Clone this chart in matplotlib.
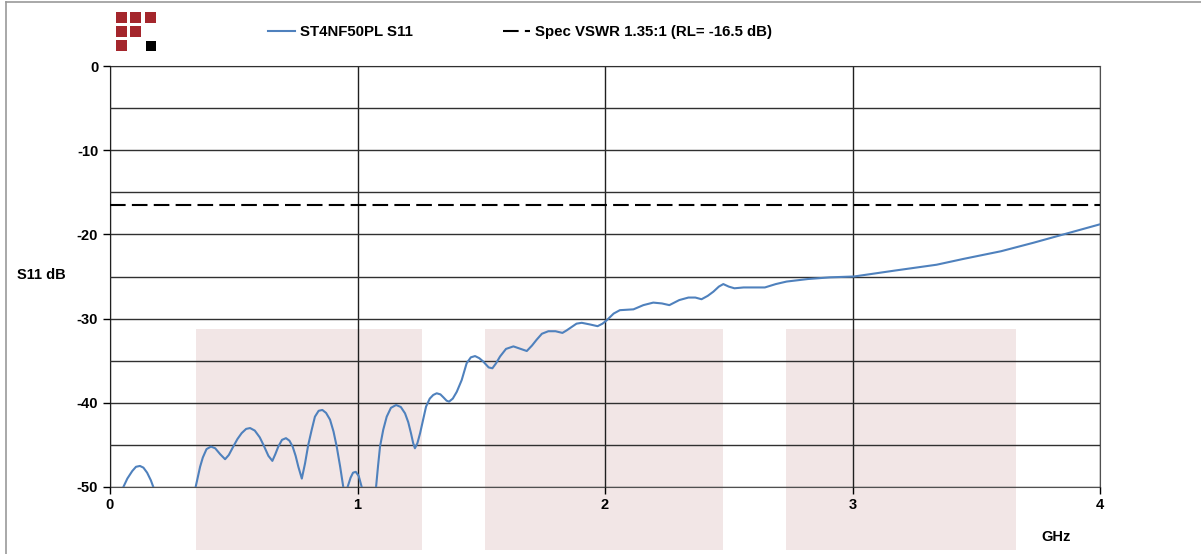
import matplotlib
matplotlib.use("Agg")
import matplotlib.pyplot as plt
from matplotlib.patches import Rectangle
from matplotlib.lines import Line2D
import numpy as np

plt.rcParams['font.family'] = ['Liberation Sans', 'DejaVu Sans']
plt.rcParams['font.weight'] = 'bold'
plt.rcParams['axes.unicode_minus'] = False

# S11 trace (GHz, dB); points below -50 are clipped by the axis
freq = [0.0, 0.054, 0.070, 0.090, 0.105, 0.121, 0.135, 0.150, 0.165, 0.175,
        0.260, 0.346, 0.355, 0.364, 0.375, 0.390, 0.408, 0.425, 0.445, 0.465,
        0.480, 0.498, 0.515, 0.532, 0.550, 0.566, 0.585, 0.605, 0.620, 0.640,
        0.656, 0.668, 0.680, 0.695, 0.711, 0.725, 0.738, 0.750, 0.761, 0.775,
        0.788, 0.801, 0.815, 0.828, 0.843, 0.858, 0.873, 0.889, 0.903, 0.916,
        0.930, 0.943, 0.951, 0.960, 0.972, 0.982, 0.993, 1.005, 1.017, 1.040,
        1.075, 1.083, 1.091, 1.104, 1.118, 1.135, 1.156, 1.175, 1.192, 1.205,
        1.216, 1.225, 1.232, 1.242, 1.253, 1.265, 1.277, 1.292, 1.306, 1.320,
        1.335, 1.347, 1.360, 1.370, 1.385, 1.401, 1.421, 1.441, 1.458, 1.475,
        1.492, 1.508, 1.530, 1.545, 1.560, 1.576, 1.600, 1.630, 1.660, 1.684,
        1.705, 1.724, 1.745, 1.771, 1.800, 1.828, 1.845, 1.865, 1.885, 1.906,
        1.940, 1.970, 1.990, 2.007, 2.035, 2.060, 2.090, 2.115, 2.155, 2.195,
        2.230, 2.260, 2.300, 2.337, 2.365, 2.390, 2.415, 2.438, 2.460, 2.478,
        2.500, 2.523, 2.560, 2.646, 2.690, 2.734, 2.820, 2.909, 3.006, 3.170,
        3.340, 3.450, 3.600, 3.730, 3.865, 4.000]
s11 = [-56.0, -50.0, -49.0, -48.1, -47.6, -47.5, -47.7, -48.3, -49.2, -50.0,
       -60.0, -50.0, -48.8, -47.6, -46.5, -45.5, -45.2, -45.4, -46.1, -46.7,
       -46.2, -45.2, -44.3, -43.6, -43.1, -43.0, -43.3, -44.1, -45.0, -46.3,
       -46.9, -46.1, -45.2, -44.4, -44.2, -44.5, -45.2, -46.3, -47.6, -49.0,
       -47.2, -45.0, -43.2, -41.65, -40.95, -40.85, -41.2, -42.0, -43.4, -45.2,
       -47.6, -50.1, -51.0, -50.0, -48.9, -48.3, -48.2, -48.7, -50.0, -54.0,
       -50.0, -47.5, -45.2, -43.2, -41.65, -40.6, -40.26, -40.5, -41.25, -42.3,
       -43.6, -44.8, -45.4, -44.8, -43.6, -42.0, -40.45, -39.5, -39.07, -38.87,
       -39.0, -39.35, -39.75, -39.86, -39.5, -38.7, -37.3, -35.3, -34.6, -34.45,
       -34.7, -35.1, -35.8, -35.9, -35.3, -34.5, -33.6, -33.3, -33.6, -33.85,
       -33.2, -32.5, -31.8, -31.5, -31.5, -31.7, -31.4, -31.0, -30.6, -30.5,
       -30.7, -30.9, -30.6, -30.2, -29.4, -29.0, -28.95, -28.9, -28.4, -28.1,
       -28.2, -28.4, -27.8, -27.5, -27.5, -27.7, -27.3, -26.8, -26.2, -25.9,
       -26.2, -26.4, -26.3, -26.3, -25.9, -25.6, -25.3, -25.1, -25.0, -24.3,
       -23.6, -22.9, -22.0, -21.0, -19.9, -18.8]

spec_rl = -16.5

# shaded bands behind the trace (GHz start, GHz end)
bands = [(0.347, 1.26), (1.515, 2.477), (2.731, 3.66)]
band_top, band_bottom = -31.2, -57.5

W, H = 1201, 554
fig = plt.figure(figsize=(W / 100, H / 100), dpi=100)
ax = fig.add_axes([110 / W, 1 - 487 / H, 990 / W, 421 / H])

for x0, x1 in bands:
    ax.add_patch(Rectangle((x0, band_bottom), x1 - x0, band_top - band_bottom,
                           facecolor='#f2e6e6', edgecolor='none',
                           clip_on=False, zorder=0.5))

ax.plot(freq, s11, color='#4f81bd', lw=1.5, label='ST4NF50PL S11', zorder=3)
ax.axhline(spec_rl, color='black', lw=1.5, dashes=(7.5, 3),
           label='Spec VSWR 1.35:1 (RL= -16.5 dB)', zorder=3)

ax.set_xlim(0, 4)
ax.set_ylim(-50, 0)
ax.set_xticks([0, 1, 2, 3, 4])
ax.set_yticks(np.arange(-50, 1, 10))
ax.set_yticks(np.arange(-45, 0, 10), minor=True)
ax.tick_params(axis='y', which='minor', length=0)
ax.tick_params(axis='both', which='major', length=5, width=1, labelsize=10.5,
               direction='out', colors='black')
ax.tick_params(axis='x', pad=3)
for lab in ax.get_xticklabels() + ax.get_yticklabels():
    lab.set_fontweight('bold')

ax.grid(True, axis='y', which='both', color='#303030', lw=1, zorder=1)
ax.grid(True, axis='x', which='major', color='#202020', lw=1, zorder=1)
ax.set_axisbelow(False)
ax.spines['left'].set_color('black')
for side in ['right', 'top', 'bottom']:
    ax.spines[side].set_color('#505050')

fig.text(41 / W, 1 - 275 / H, 'S11 dB', ha='center', va='center',
         fontsize=10.5, fontweight='bold')
fig.text(1056 / W, 1 - 537 / H, 'GHz', ha='center', va='center',
         fontsize=10.5, fontweight='bold')

fig.legend(loc='center left', bbox_to_anchor=(268 / W, 1 - 32 / H), ncol=2,
           frameon=False, handlelength=1.8, handletextpad=0.35,
           columnspacing=6.0, borderpad=0, borderaxespad=0,
           prop={'weight': 'bold', 'size': 10.8})

# logo
red = '#a4262c'
cols = [116, 130, 145]
rows = [12, 26, 40]
cells = [(0, 0), (0, 1), (0, 2), (1, 0), (1, 1), (2, 0)]
for r, c in cells:
    fig.add_artist(Rectangle((cols[c] / W, 1 - (rows[r] + 11) / H), 11 / W, 11 / H,
                             transform=fig.transFigure, facecolor=red,
                             edgecolor='none'))
fig.add_artist(Rectangle((146 / W, 1 - 51 / H), 10 / W, 10 / H,
                         transform=fig.transFigure, facecolor='black',
                         edgecolor='none'))

# outer frame
fig.add_artist(Line2D([6 / W, 1.01], [1 - 2 / H, 1 - 2 / H], color='#999999', lw=1.2,
                      transform=fig.transFigure))
fig.add_artist(Line2D([6 / W, 6 / W], [-0.01, 1 - 2 / H], color='#999999', lw=1.2,
                      transform=fig.transFigure))

fig.savefig('out.png', dpi=100)
